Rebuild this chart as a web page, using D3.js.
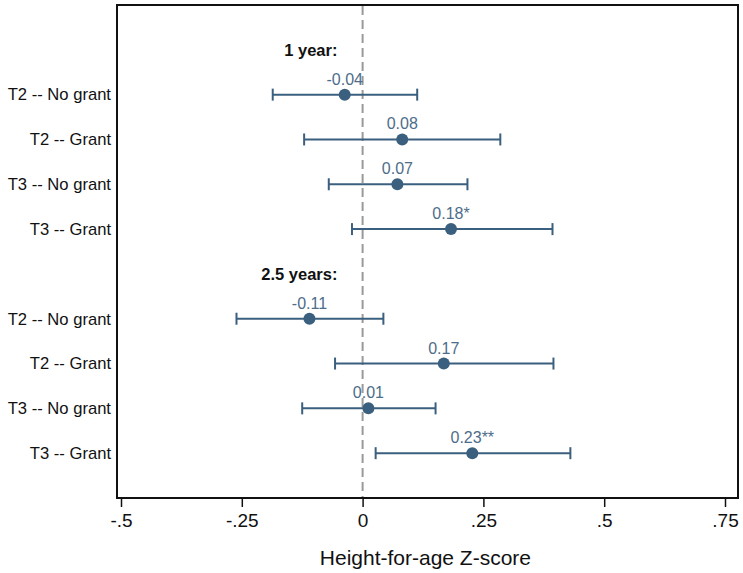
<!DOCTYPE html>
<html>
<head>
<meta charset="utf-8">
<script src="https://cdn.jsdelivr.net/npm/d3@7"></script>
<style>
  body { margin: 0; background: #fff; }
  svg { display: block; font-family: Arial, "Liberation Sans", sans-serif; }
</style>
</head>
<body>
<svg id="chart" width="743" height="573"></svg>
<script>
// Row labels and slot positions (slot 0 and 5 are group headings)
const groups = ["1 year:", "2.5 years:"];
const groupSlots = [0, 5];
const rowLabels = ["T2 -- No grant", "T2 -- Grant", "T3 -- No grant", "T3 -- Grant",
                   "T2 -- No grant", "T2 -- Grant", "T3 -- No grant", "T3 -- Grant"];
const rowSlots = [1, 2, 3, 4, 6, 7, 8, 9];
const estimates = [-0.037, 0.082, 0.072, 0.183, -0.110, 0.168, 0.012, 0.227];
const ciLow = [-0.186, -0.121, -0.070, -0.022, -0.261, -0.057, -0.125, 0.027];
const ciHigh = [0.113, 0.285, 0.217, 0.393, 0.043, 0.395, 0.151, 0.430];
const valueLabels = ["-0.04", "0.08", "0.07", "0.18*", "-0.11", "0.17", "0.01", "0.23**"];
const xTicks = [-0.5, -0.25, 0, 0.25, 0.5, 0.75];
const xTickLabels = ["-.5", "-.25", "0", ".25", ".5", ".75"];

const svg = d3.select("#chart");
const margin = { top: 5, right: 5, bottom: 75, left: 117 };
const W = 743, H = 573;

const x = d3.scaleLinear()
    .domain([-0.5, 0.75])
    .range([121, 725]);

const y = d3.scaleLinear()
    .domain([-1, 10])
    .range([margin.top, H - margin.bottom]);

const color = "#3b5f7e";
const labelColor = "#4d6d8a";

// Frame
svg.append("rect")
    .attr("x", margin.left)
    .attr("y", margin.top)
    .attr("width", W - margin.right - margin.left)
    .attr("height", H - margin.bottom - margin.top)
    .attr("fill", "none")
    .attr("stroke", "#111")
    .attr("stroke-width", 2);

// Zero reference line
svg.append("line")
    .attr("x1", x(0)).attr("x2", x(0))
    .attr("y1", margin.top + 1).attr("y2", H - margin.bottom - 1)
    .attr("stroke", "#999")
    .attr("stroke-width", 2)
    .attr("stroke-dasharray", "9,5");

// X axis
const xAxis = d3.axisBottom(x)
    .tickValues(xTicks)
    .tickFormat((d, i) => xTickLabels[i])
    .tickSize(9)
    .tickPadding(7);

const gx = svg.append("g")
    .attr("transform", `translate(0,${H - margin.bottom})`)
    .call(xAxis);
gx.select(".domain").remove();
gx.selectAll(".tick line").attr("stroke", "#111").attr("stroke-width", 1.5);
gx.selectAll(".tick text")
    .attr("fill", "#111")
    .style("font-size", "19px")
    .style("font-family", "Arial, 'Liberation Sans', sans-serif");

svg.append("text")
    .attr("x", x(0.13))
    .attr("y", 565)
    .attr("text-anchor", "middle")
    .attr("fill", "#111")
    .style("font-size", "21px")
    .text("Height-for-age Z-score");

// Group headings
svg.selectAll(".group")
    .data(groups)
    .enter()
    .append("text")
    .attr("class", "group")
    .attr("x", x(-0.052))
    .attr("y", (d, i) => y(groupSlots[i]))
    .attr("dy", "0.35em")
    .attr("text-anchor", "end")
    .attr("font-weight", "bold")
    .attr("fill", "#111")
    .style("font-size", "16.5px")
    .text(d => d);

// Row labels
svg.selectAll(".rowlabel")
    .data(rowLabels)
    .enter()
    .append("text")
    .attr("class", "rowlabel")
    .attr("x", margin.left - 6)
    .attr("y", (d, i) => y(rowSlots[i]))
    .attr("dy", "0.35em")
    .attr("text-anchor", "end")
    .attr("fill", "#111")
    .style("font-size", "16.6px")
    .text(d => d);

// Error bars
const rows = svg.selectAll(".row")
    .data(estimates)
    .enter()
    .append("g")
    .attr("class", "row");

rows.append("line")
    .attr("x1", (d, i) => x(ciLow[i]))
    .attr("x2", (d, i) => x(ciHigh[i]))
    .attr("y1", (d, i) => y(rowSlots[i]))
    .attr("y2", (d, i) => y(rowSlots[i]))
    .attr("stroke", color)
    .attr("stroke-width", 2);

[ciLow, ciHigh].forEach(ends => {
    rows.append("line")
        .attr("x1", (d, i) => x(ends[i]))
        .attr("x2", (d, i) => x(ends[i]))
        .attr("y1", (d, i) => y(rowSlots[i]) - 6)
        .attr("y2", (d, i) => y(rowSlots[i]) + 6)
        .attr("stroke", color)
        .attr("stroke-width", 2);
});

rows.append("circle")
    .attr("cx", d => x(d))
    .attr("cy", (d, i) => y(rowSlots[i]))
    .attr("r", 6)
    .attr("fill", color);

rows.append("text")
    .attr("x", d => x(d))
    .attr("y", (d, i) => y(rowSlots[i]) - 10)
    .attr("text-anchor", "middle")
    .attr("fill", labelColor)
    .style("font-size", "16px")
    .text((d, i) => valueLabels[i]);
</script>
</body>
</html>
